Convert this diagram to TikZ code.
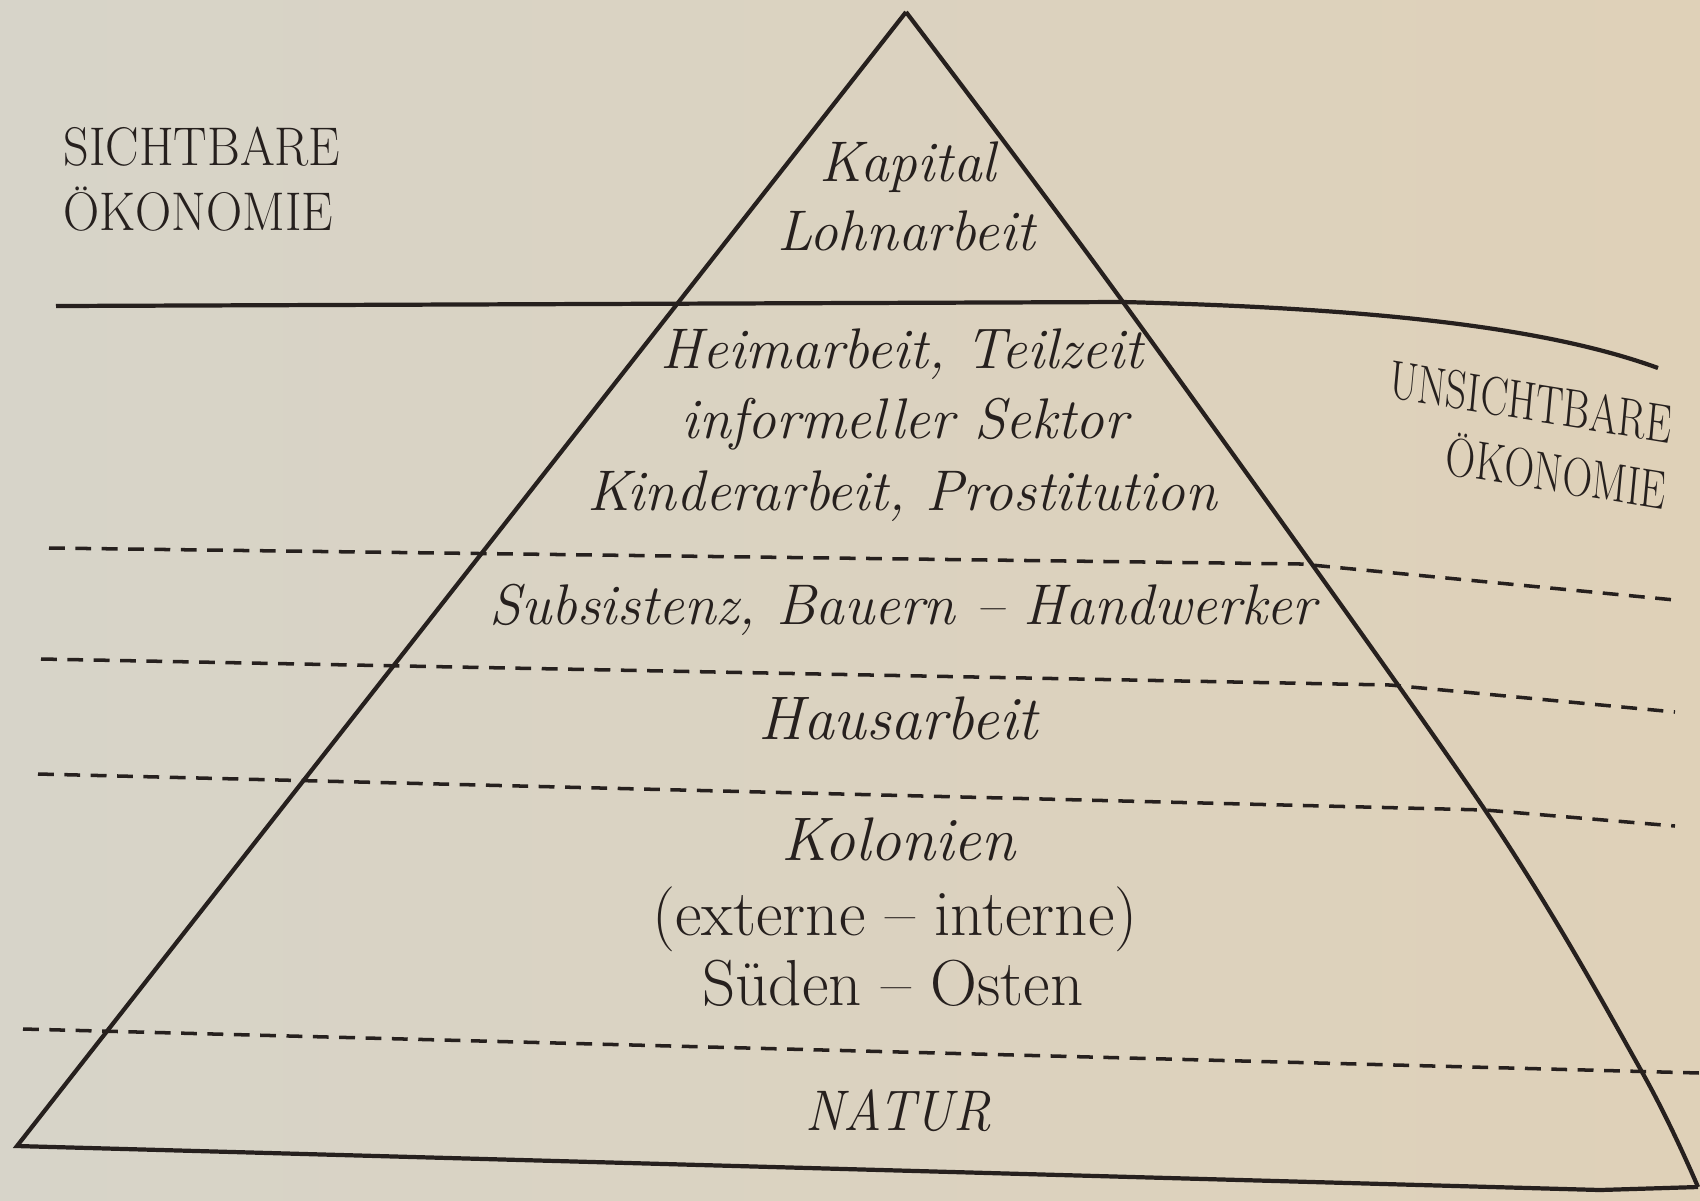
\documentclass[tikz,border=0pt]{standalone}
\usepackage{fontspec}
\definecolor{paperL}{RGB}{215,212,201}
\definecolor{paperR}{RGB}{223,209,184}
\definecolor{ink}{RGB}{38,32,30}
\begin{document}
\begin{tikzpicture}[
x=1cm, y=-1cm,
every node/.style = {inner sep=0pt, text=ink, anchor=base},
work/.style = {font=\fontsize{16.3}{20}\selectfont\itshape},
place/.style = {font=\fontsize{18.5}{22}\selectfont},
caps/.style = {font=\fontsize{15.5}{19}\selectfont, xscale=0.92},
farcaps/.style = {caps, xscale=0.82, rotate=-7, anchor=center, align=right},
edge/.style = {draw=ink, line width=1.2pt, line join=miter},
cut/.style = {draw=ink, line width=1pt, dash pattern=on 4.5pt off 3pt},
]
  \shade[left color=paperL, right color=paperR] (0,0) rectangle (17,12);
  \useasboundingbox (0,0) rectangle (17,12);

  \coordinate (top) at (9.06,0.12);
  \coordinate (baseL) at (0.17,11.46);
  \coordinate (baseM) at (16.0,11.90);
  \coordinate (baseR) at (16.98,11.87);

  \draw[edge] (baseR) -- (baseM) -- (baseL) -- (top);
  \draw[edge] plot[smooth] coordinates {(top) (11.23,3.02) (14.85,8.10) (16.42,10.72) (baseR)};

  \draw[edge] (0.56,3.06) -- (11.23,3.02) .. controls (13.6,3.08) and (15.4,3.25) .. (16.58,3.68);
  \draw[cut] (0.49,5.48) -- (13.01,5.64) -- (16.75,6.00);
  \draw[cut] (0.41,6.59) -- (13.90,6.85) -- (16.75,7.12);
  \draw[cut] (0.38,7.74) -- (14.85,8.10) -- (16.75,8.26);
  \draw[cut] (0.23,10.29) -- (17.0,10.73);

  \node[caps, anchor=base west] (sicht) at (0.63,1.65) {SICHTBARE};
  \node[caps, anchor=base west] (sichtOek) at (0.63,2.30) {ÖKONOMIE};
  \node[farcaps] (unsicht) at (15.28,4.35) {UNSICHTBARE\\ÖKONOMIE};

  \node[work] (kapital) at (9.08,1.81) {Kapital};
  \node[work] (lohn) at (9.06,2.50) {Lohnarbeit};
  \node[work] (heim) at (9.02,3.68) {Heimarbeit, Teilzeit};
  \node[work] (informell) at (9.05,4.38) {informeller Sektor};
  \node[work] (kinder) at (9.02,5.10) {Kinderarbeit, Prostitution};
  \node[work] (subsistenz) at (9.03,6.24) {Subsistenz, Bauern -- Handwerker};
  \node[work, font=\fontsize{17.5}{20}\selectfont\itshape] (haus) at (8.98,7.39) {Hausarbeit};
  \node[work, font=\fontsize{17.5}{20}\selectfont\itshape] (kolonien) at (8.98,8.60) {Kolonien};
  \node[place] (extern) at (8.95,9.35) {(externe -- interne)};
  \node[place] (sueden) at (8.93,10.05) {Süden -- Osten};
  \node[work, xscale=0.92] (natur) at (8.98,11.30) {NATUR};
\end{tikzpicture}
\end{document}
